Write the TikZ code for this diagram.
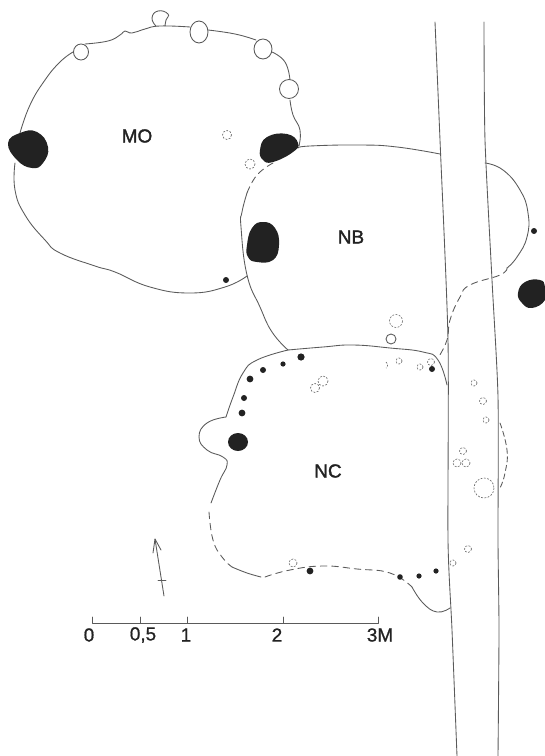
\documentclass[tikz,border=0pt]{standalone}
\usepackage{fontspec}
\setmainfont{Liberation Sans}
\newfontfamily\labfont[FakeBold=1.6]{Liberation Sans}
\newfontfamily\numfont[FakeBold=0.8]{Liberation Sans}
\newcommand{\blob}[1]{\fill[blackfill] plot[smooth cycle,tension=0.8] coordinates {#1};}
\tikzset{
  wall/.style={draw=linegray,line width=0.65pt,line join=round,line cap=round},
  lost/.style={wall,dash pattern=on 5pt off 3.5pt},
  pit/.style={draw=pitgray,line width=0.5pt,dash pattern=on 1.4pt off 1.1pt},
  hole/.style={draw=linegray,line width=0.65pt,fill=white},
  blackfill/.style={fill=blobblack},
  lab/.style={font=\labfont\fontsize{14.2pt}{16pt}\selectfont,text=blobblack,inner sep=0pt},
  scalelab/.style={font=\numfont\fontsize{14.2pt}{16pt}\selectfont,text=blobblack,inner sep=0pt},
  sc/.style={smooth,tension=0.8}
}
\definecolor{linegray}{HTML}{5A5A5A}
\definecolor{pitgray}{HTML}{707070}
\definecolor{blobblack}{HTML}{222222}
\begin{document}
\begin{tikzpicture}[x=0.75pt,y=-0.75pt]
\useasboundingbox (0,0) rectangle (545,756);
% MO outline
\draw[wall] plot[sc] coordinates {(20,133)(30,105)(45,80)(60,62)(73,52)};
\draw[wall] plot[sc] coordinates {(85,44)(108,41)(120,35)(125,31)(132,33)(145,29)(160,26)(190,27)};
\draw[wall] plot[sc] coordinates {(208,30)(235,34)(256,40)};
\draw[wall] plot[sc] coordinates {(272,52)(285,62)(290,80)};
\draw[wall] plot[sc] coordinates {(290,100)(293,115)(300,130)(299,146)};
\draw[wall] plot[sc] coordinates {(15,163)(15,190)(25,215)(45,240)(60,253)(95,266)(115,272)(150,287)(190,293)(225,287)(247,276)};
% top structures on MO
\draw[wall] plot[smooth,tension=0.9] coordinates {(156,26)(152,18)(158,11)(168,14)(166,20)(165,26)};
\draw[hole] (81,52) ellipse (7.5 and 8);
\draw[hole] (199,32) ellipse (9 and 11);
\draw[hole] (263,49) ellipse (9 and 10);
\draw[hole] (289,89) ellipse (9.5 and 9.5);
% NB outline
\draw[wall] plot[sc] coordinates {(298,148)(310,146)(360,145)(397,147)(440,154)};
\draw[lost] plot[sc] coordinates {(273,163)(257,175)(247,193)};
\draw[wall] plot[sc] coordinates {(247,193)(242,212)(241,227)(247,275)(260,307)(272,332)(288,350)};
% NC outline
\draw[wall] plot[sc] coordinates {(288,350)(257,360)(243,373)(233,397)(226,417)};
\draw[wall] plot[sc] coordinates {(226,417)(207,423)(199,437)(207,450)(223,457)(227,465)(220,480)(211,503)};
\draw[lost] plot[sc] coordinates {(209,512)(213,540)(222,557)(232,567)};
\draw[wall] plot[sc] coordinates {(232,567)(247,573)(261,577)};
\draw[lost] plot[sc] coordinates {(265,577)(290,570)(323,566)(357,569)(390,573)(412,587)};
\draw[wall] plot[sc] coordinates {(412,587)(423,603)(437,612)(450,608)};
\draw[wall] plot[sc] coordinates {(288,350)(323,347)(353,345)(390,348)(423,352)(438,360)(447,385)};
% Wall band
\draw[wall] plot[smooth,tension=0.4] coordinates {(435,22)(440,140)(448,340)(448,540)(452,630)(457,756)};
\draw[wall] plot[smooth,tension=0.4] coordinates {(484,22)(485,140)(492,280)(498,397)(498,540)(499,630)(498,756)};
% right extension
\draw[wall] plot[sc] coordinates {(485,163)(503,170)(520,190)(528,213)(527,237)(517,257)(507,268)};
\draw[lost] plot[sc] coordinates {(507,268)(500,275)(470,285)(460,297)(450,320)(447,340)(438,358)};
\draw[lost,dash pattern=on 4pt off 2.5pt] plot[sc] coordinates {(500,423)(507,450)(505,473)(500,488)};
% black blobs
\blob{(8,143)(20,133)(37,132)(48,147)(43,163)(32,168)(17,160)}
\blob{(260,150)(267,137)(287,134)(298,143)(293,152)(273,162)(263,160)}
\blob{(247,245)(252,228)(263,222)(275,228)(279,245)(273,260)(257,262)(248,257)}
\blob{(518,293)(525,282)(540,280)(545,287)(545,300)(532,308)(522,303)}
\fill[blackfill] (238,442) ellipse (10 and 9);
% small dots
\foreach \px/\py/\pr in {226/280/3,534/231/3,301/357/3.6,283/364/2.6,263/370/3,250/379/3.4,244/398/3,242/413/3.4,432/369/3,310/571/3.4,400/577/2.8,419/576/2.6,436/571/2.6}
  \fill[blackfill] (\px,\py) circle (\pr);
% dashed pits
\foreach \px/\py/\pr in {227/135/4.5,250/164/5,396/321/6.5,399/361/3,420/367/3,431/362/3.5,323/381/5,315/388/4.5,474/383/3,483/401/3.5,486/420/3,463/451/3.5,457/463/4,466/463/4,484/488/10,468/549/3.5,453/563/3,293/563/4}
  \draw[pit] (\px,\py) circle (\pr);
\draw[pit] (386,362) arc (-60:60:3.5);
\draw[hole] (391,339) circle (5);
% labels
\node[lab] (mo) at (137,136) {MO};
\node[lab] (nb) at (351,237) {NB};
\node[lab] (nc) at (328,471) {NC};
% north arrow
\coordinate (ntip) at (155,539);
\coordinate (ntail) at (164,596);
\coordinate (nbl) at (153,553);
\coordinate (nbr) at (161,550);
\draw[wall] (ntail) -- (ntip);
\draw[wall] (nbl) -- (ntip) -- (nbr);
\draw[wall] (158,580) -- (166,580);
% scale bar
\draw[wall] (92,617) -- (92,623) -- (378,623) -- (378,617);
\draw[wall] (140,617) -- (140,623);
\draw[wall] (187,617) -- (187,623);
\draw[wall] (283,617) -- (283,623);
\node[scalelab] (s0) at (89,635) {0};
\node[scalelab] (s05) at (143,635) {0,5};
\node[scalelab] (s1) at (186,635) {1};
\node[scalelab] (s2) at (277,635) {2};
\node[scalelab] (s3) at (380,635) {3M};
\end{tikzpicture}
\end{document}
